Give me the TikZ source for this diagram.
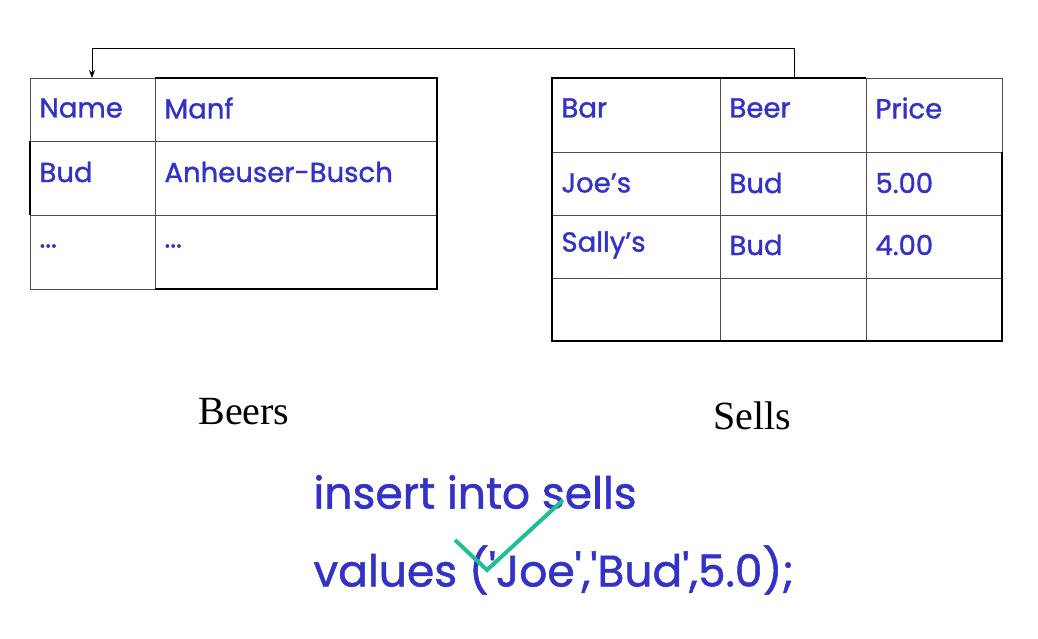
\documentclass[tikz,border=0pt]{standalone}
\usepackage{fontspec}
\setmainfont{Liberation Serif}
\newfontfamily\tabfont[FakeBold=1.2]{Poppins}
\usetikzlibrary{arrows.meta}
\definecolor{tblue}{RGB}{50,50,200}
\definecolor{chk}{RGB}{30,190,150}
\begin{document}
\begin{tikzpicture}[x=1pt,y=-1pt,
  thin line/.style={line width=0.8pt,black!70},
  thick line/.style={line width=2.2pt,black},
  cell/.style={anchor=west,font=\tabfont\fontsize{27.5}{30}\selectfont,text=tblue},
  lbl/.style={font=\fontsize{40}{44}\selectfont},
  code/.style={anchor=west,font=\tabfont\fontsize{44}{48}\selectfont,text=tblue}]
\useasboundingbox (0,0) rectangle (1038,638);
% Beers table
\draw[thin line] (30,78) -- (155,78);
\draw[thin line] (30,78) -- (30,141);
\draw[thin line] (30,215) -- (30,289) -- (155,289);
\draw[thin line] (30,141) -- (437,141);
\draw[thin line] (30,215) -- (437,215);
\draw[thin line] (155,78) -- (155,289);
\draw[thick line] (30,141) -- (30,215);
\draw[thick line] (155,78) -- (437,78) -- (437,289) -- (155,289);
\node[cell] (n1) at (36,108) {Name};
\node[cell] (n2) at (161,108) {Manf};
\node[cell] (n3) at (36,172) {Bud};
\node[cell] (n4) at (161,172) {Anheuser-Busch};
\node[cell] (n5) at (36,246) {...};
\node[cell] (n6) at (161,246) {...};
% Sells table
\draw[thin line] (866,78) -- (1002,78) -- (1002,152);
\draw[thin line] (552,152) -- (1002,152);
\draw[thin line] (552,215) -- (1002,215);
\draw[thin line] (552,278) -- (1002,278);
\draw[thin line] (720,78) -- (720,341);
\draw[thin line] (866,78) -- (866,341);
\draw[thick line] (866,78) -- (552,78) -- (552,341) -- (1002,341) -- (1002,152);
\node[cell] (s1) at (558,108) {Bar};
\node[cell] (s2) at (726,108) {Beer};
\node[cell] (s3) at (872,108) {Price};
\node[cell] (s4) at (558,183) {Joe’s};
\node[cell] (s5) at (726,183) {Bud};
\node[cell] (s6) at (872,183) {5.00};
\node[cell] (s7) at (558,245) {Sally’s};
\node[cell] (s8) at (726,245) {Bud};
\node[cell] (s9) at (872,245) {4.00};
% foreign key arrow
\coordinate (fa) at (794,78);
\coordinate (fb) at (92,78);
\draw[line width=1pt,-{Stealth[length=8pt,width=6pt]}] (fa) -- (794,48) -- (92,48) -- (fb);
% labels
\node[lbl] (lb) at (244,412) {Beers};
\node[lbl] (ls) at (752,416) {Sells};
% code
\node[code] (c1) at (310,492) {insert into sells};
\node[code] (c2) at (310,570) {values ('Joe','Bud',5.0);};
\draw[chk,line width=4pt] (455,540) -- (487,570) -- (563,500);
\end{tikzpicture}
\end{document}
